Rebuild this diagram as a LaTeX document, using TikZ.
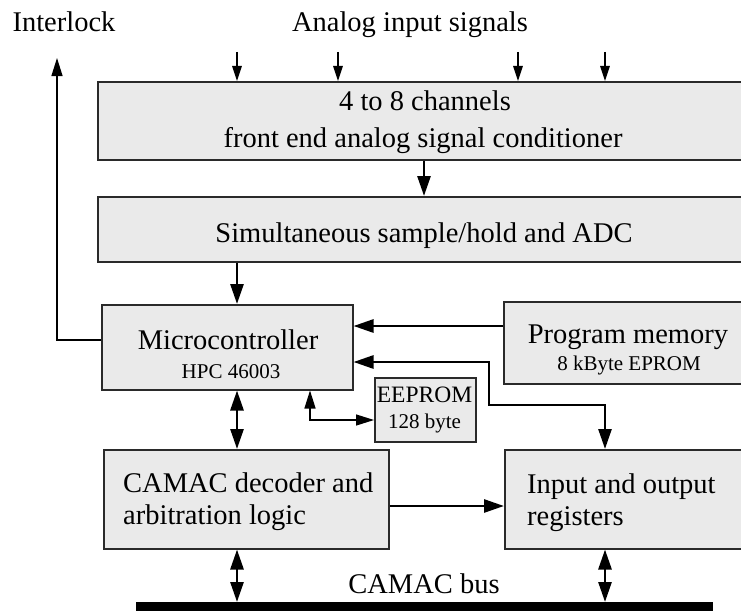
\documentclass[tikz,border=0pt]{standalone}
\usepackage{fontspec}
\setmainfont{Liberation Serif}
\usetikzlibrary{arrows.meta}
\definecolor{boxgray}{HTML}{EAEAEA}
\definecolor{edgegray}{HTML}{2A2A2A}
\begin{document}
\begin{tikzpicture}[x=1pt,y=-1pt,
  blk/.style={draw=edgegray,line width=1.5pt,fill=boxgray,inner sep=0pt,anchor=north west},
  txt/.style={inner sep=0pt,anchor=base,font=\fontsize{28.5}{34}\selectfont},
  smalltxt/.style={inner sep=0pt,anchor=base,font=\fontsize{21}{25}\selectfont},
  thinline/.style={line width=1.3pt},
  thickline/.style={line width=2.7pt},
  tipthick/.tip={Triangle[length=20pt,width=13pt]},
  tipthin/.tip={Triangle[length=18pt,width=11pt]},
  tipinput/.tip={Triangle[length=15pt,width=9.5pt]}]
\clip (0,0) rectangle (741,610);
% boxes
\node[blk,minimum width=648pt,minimum height=78pt] (fe) at (97,81) {};
\node[blk,minimum width=648pt,minimum height=65pt] (adc) at (97,196) {};
\node[blk,minimum width=251pt,minimum height=85pt] (mc) at (101,304) {};
\node[blk,minimum width=242pt,minimum height=82pt] (pm) at (503,301) {};
\node[blk,minimum width=101pt,minimum height=64pt] (ee) at (374,377) {};
\node[blk,minimum width=285pt,minimum height=99pt] (dec) at (103,449) {};
\node[blk,minimum width=241pt,minimum height=99pt] (io) at (504,449) {};
\node[fill=black,inner sep=0pt,anchor=north west,minimum width=577pt,minimum height=10pt] (bus) at (136,602) {};
% texts
\node[txt] (tinter) at (64,32) {Interlock};
\node[txt] (tanalog) at (410,32) {Analog input signals};
\node[txt] (tfe1) at (425,110) {4 to 8 channels};
\node[txt] (tfe2) at (423,147) {front end analog signal conditioner};
\node[txt] (tadc) at (424,242) {Simultaneous sample/hold and ADC};
\node[txt] (tmc1) at (228,349) {Microcontroller};
\node[smalltxt] (tmc2) at (231,378) {HPC 46003};
\node[txt] (tpm1) at (628,343) {Program memory};
\node[smalltxt] (tpm2) at (629,370) {8 kByte EPROM};
\node[inner sep=0pt,anchor=base,font=\fontsize{23.5}{28}\selectfont] (tee1) at (424.5,402) {EEPROM};
\node[smalltxt] (tee2) at (424.5,428) {128 byte};
\node[txt,anchor=base west] (tdec1) at (123,492) {CAMAC decoder and};
\node[txt,anchor=base west] (tdec2) at (123,524) {arbitration logic};
\node[txt,anchor=base west] (tio1) at (527,493) {Input and output};
\node[txt,anchor=base west] (tio2) at (527,525) {registers};
\node[txt] (tbus) at (424,593) {CAMAC bus};
% free ends
\coordinate (in1) at (237,52);
\coordinate (in2) at (338,52);
\coordinate (in3) at (518,52);
\coordinate (in4) at (605,52);
\coordinate (ilk) at (57,58);
% input arrows
\foreach \c in {in1,in2,in3,in4}
  \draw[thinline,-{tipinput}] (\c) -- (\c |- fe.north);
% interlock
\draw[thinline,-{tipthin}] (mc.west |- 0,340) -| (ilk);
% vertical flow
\draw[thickline,-{tipthick}] (fe.south -| 424,0) -- (adc.north -| 424,0);
\draw[thickline,-{tipthick}] (adc.south -| 237,0) -- (mc.north -| 237,0);
% program memory to micro
\draw[thickline,-{tipthick}] (pm.west |- 0,326) -- (mc.east |- 0,326);
% micro <-> I/O registers
\draw[thickline,{tipthick}-{tipthick}] (mc.east |- 0,362) -- (489,362) -- (489,405) -- (605,405) -- (io.north -| 605,0);
% micro <-> EEPROM
\draw[thinline,{tipthin}-{tipthin}] (mc.south -| 310,0) |- (ee.west |- 0,420);
% micro <-> decoder
\draw[thickline,{tipthick}-{tipthick}] (mc.south -| 237,0) -- (dec.north -| 237,0);
% decoder -> I/O
\draw[thickline,-{tipthick}] (dec.east |- 0,506) -- (io.west |- 0,506);
% bus connections
\draw[thickline,{tipthick}-{tipthick}] (dec.south -| 237,0) -- (bus.north -| 237,0);
\draw[thickline,{tipthick}-{tipthick}] (io.south -| 605,0) -- (bus.north -| 605,0);
\end{tikzpicture}
\end{document}
